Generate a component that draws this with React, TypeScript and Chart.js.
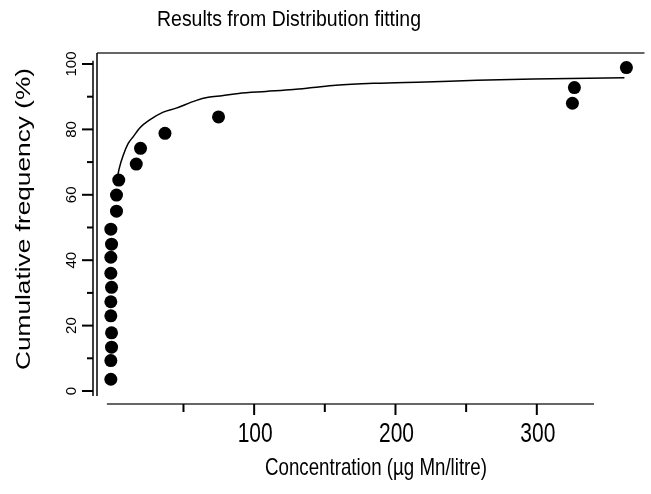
import { useEffect, useRef } from "react";
import { Chart, registerables } from "chart.js";

Chart.register(...registerables);

const titleText = "Results from Distribution fitting";
const xTitleText = "Concentration (\u00b5g Mn/litre)";
const yTitleText = "Cumulative frequency (%)";

// observed points (concentration, cumulative %)
const obsX = [-1.4, -1.4, -0.9, -0.9, -1.4, -1.4, -0.9, -1.4, -1.4, -0.9, -1.4, 2.6, 2.6, 4.2, 16.6, 19.6, 36.9, 74.8, 325.2, 326.6, 363.4];
const obsY = [3.6, 9.3, 13.4, 17.8, 23, 27.3, 31.7, 36, 40.9, 44.9, 49.5, 55, 59.9, 64.5, 69.4, 74.2, 78.8, 83.8, 88, 92.8, 98.9];

// fitted distribution curve
const fitX = [3.1, 4.5, 7.3, 10.9, 14.5, 19.2, 26.1, 35.3, 44.8, 58.7, 67.5, 77.2, 89, 108.3, 127.7, 141.7, 157.8, 185.7, 221.2, 257.7, 297.5, 323.3, 362];
const fitY = [65, 68, 72, 75.7, 77.8, 80.5, 82.9, 85.2, 86.5, 88.8, 89.8, 90.3, 91, 91.6, 92.2, 92.8, 93.5, 94.1, 94.5, 95, 95.4, 95.6, 95.8];

const xTicks = [50, 100, 150, 200, 250, 300];
const xLabels = [100, 200, 300];
const yTicks = [0, 10, 20, 30, 40, 50, 60, 70, 80, 90, 100];
const yLabels = [0, 20, 40, 60, 80, 100];

const FONT = '"Liberation Sans", Arial, sans-serif';

function drawText(
  ctx: CanvasRenderingContext2D,
  text: string,
  x: number,
  y: number,
  size: number,
  targetWidth: number,
  sy: number,
  rotated: boolean
) {
  ctx.save();
  ctx.font = `${size}px ${FONT}`;
  const w = ctx.measureText(text).width;
  const sx = targetWidth > 0 ? targetWidth / w : 1;
  ctx.translate(x, y);
  if (rotated) ctx.rotate(-Math.PI / 2);
  ctx.scale(sx, sy);
  ctx.textAlign = "center";
  ctx.textBaseline = "alphabetic";
  ctx.fillStyle = "#000";
  ctx.fillText(text, 0, 0);
  ctx.restore();
}

const rAxes = {
  id: "rAxes",
  beforeDatasetsDraw(chart: any) {
    const { ctx, chartArea, scales } = chart;
    const xs = scales.x;
    const ys = scales.y;
    ctx.save();
    ctx.lineCap = "butt";

    // plot frame (top and left)
    ctx.strokeStyle = "#333";
    ctx.lineWidth = 1.5;
    ctx.beginPath();
    ctx.moveTo(chartArea.left, chartArea.top);
    ctx.lineTo(chartArea.right, chartArea.top);
    ctx.stroke();
    ctx.strokeStyle = "#000";
    ctx.beginPath();
    ctx.moveTo(chartArea.left, chartArea.top);
    ctx.lineTo(chartArea.left, ys.getPixelForValue(-1.5));
    ctx.stroke();

    // y axis
    const ax = chartArea.left - 4;
    ctx.beginPath();
    ctx.moveTo(ax, ys.getPixelForValue(101));
    ctx.lineTo(ax, ys.getPixelForValue(-1.5));
    ctx.stroke();
    ctx.lineWidth = 2;
    yTicks.forEach((v) => {
      const y = ys.getPixelForValue(v);
      const major = yLabels.includes(v);
      ctx.beginPath();
      ctx.moveTo(ax - (major ? 11 : 6), y);
      ctx.lineTo(ax, y);
      ctx.stroke();
    });
    yLabels.forEach((v) => {
      const s = String(v);
      drawText(ctx, s, 76, ys.getPixelForValue(v), 15, 0, 1, true);
    });
    drawText(ctx, yTitleText, 29.5, 219, 20, 302, 1, true);

    // x axis
    const by = chartArea.bottom - 1;
    ctx.strokeStyle = "#333";
    ctx.lineWidth = 1.5;
    ctx.beginPath();
    ctx.moveTo(xs.getPixelForValue(-4.2), by);
    ctx.lineTo(xs.getPixelForValue(340.5), by);
    ctx.stroke();
    ctx.strokeStyle = "#000";
    ctx.lineWidth = 2;
    xTicks.forEach((v) => {
      const x = xs.getPixelForValue(v);
      const major = xLabels.includes(v);
      ctx.beginPath();
      ctx.moveTo(x, by);
      ctx.lineTo(x, by + (major ? 11 : 8));
      ctx.stroke();
    });
    xLabels.forEach((v) => {
      drawText(ctx, String(v), xs.getPixelForValue(v) + 1, 442, 21, 0, 1.3, false);
    });
    drawText(ctx, xTitleText, 376, 475, 18, 222, 1.3, false);

    // main title
    drawText(ctx, titleText, 289, 26, 18, 264, 1.25, false);
    ctx.restore();
  },
};

export default function App() {
  const ref = useRef<HTMLCanvasElement>(null);
  useEffect(() => {
    const chart = new Chart(ref.current as HTMLCanvasElement, {
      type: "scatter",
      data: {
        datasets: [
          {
            label: "fit",
            data: fitX.map((x, i) => ({ x, y: fitY[i] })),
            showLine: true,
            borderColor: "#000",
            borderWidth: 1.5,
            pointRadius: 0,
            cubicInterpolationMode: "monotone",
            clip: false as any,
          } as any,
          {
            label: "observed",
            data: obsX.map((x, i) => ({ x, y: obsY[i] })),
            showLine: false,
            backgroundColor: "#000",
            borderColor: "#000",
            borderWidth: 0,
            pointRadius: 6.5,
            pointStyle: "circle",
            clip: false as any,
          } as any,
        ],
      },
      options: {
        responsive: false,
        animation: false,
        layout: { padding: { left: 97, top: 53, right: 0, bottom: 89 } },
        plugins: { legend: { display: false }, tooltip: { enabled: false }, title: { display: false } },
        scales: {
          x: { type: "linear", display: false, min: -11.19, max: 376.2 },
          y: { type: "linear", display: false, min: -4.28, max: 103.36 },
        },
      },
      plugins: [rAxes],
    });
    return () => chart.destroy();
  }, []);
  return (
    <div style={{ position: "absolute", left: 0, top: 0, width: 651, height: 494, background: "#fff" }}>
      <canvas ref={ref} width={651} height={494} style={{ display: "block" }} />
    </div>
  );
}
